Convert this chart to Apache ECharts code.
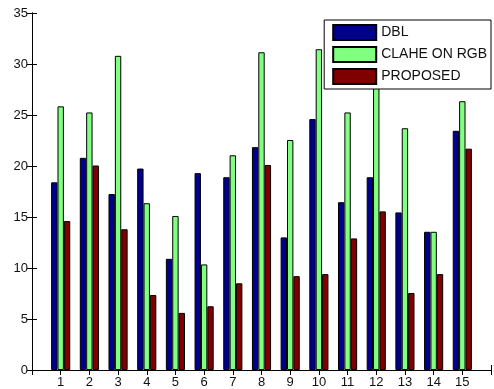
<!DOCTYPE html>
<html>
<head>
<meta charset="utf-8">
<script src="https://cdn.jsdelivr.net/npm/echarts@6/dist/echarts.min.js"></script>
<style>
html,body{margin:0;padding:0;background:#fff;}
#chart{width:494px;height:389px;}
</style>
</head>
<body>
<div id="chart"></div>
<script>
const categories = [1, 2, 3, 4, 5, 6, 7, 8, 9, 10, 11, 12, 13, 14, 15];
const seriesNames = ['DBL', 'CLAHE ON RGB', 'PROPOSED'];
const dbl = [18.4, 20.8, 17.25, 19.75, 10.9, 19.3, 18.9, 21.85, 13.0, 24.6, 16.45, 18.9, 15.45, 13.55, 23.45];
const clahe = [25.85, 25.25, 30.8, 16.35, 15.1, 10.35, 21.05, 31.15, 22.55, 31.45, 25.25, 29.8, 23.7, 13.55, 26.35];
const proposed = [14.6, 20.05, 13.8, 7.35, 5.6, 6.25, 8.5, 20.1, 9.2, 9.4, 12.9, 15.55, 7.55, 9.4, 21.7];
const yTicks = [0, 5, 10, 15, 20, 25, 30, 35];
const xTickLabels = ['1','2','3','4','5','6','7','8','9','10','11','12','13','14','15'];

const colors = ['#00008f', '#80ff80', '#800000'];
const font = 'Liberation Sans, Arial, Helvetica, sans-serif';

function pairs(vals) { return categories.map((c, i) => [c, vals[i]]); }
const allData = [dbl, clahe, proposed];

const chart = echarts.init(document.getElementById('chart'), null, {renderer: 'canvas'});
const axisLine = {show: true, lineStyle: {color: '#000', width: 1}};
const tickIn = {show: true, inside: true, length: 5, lineStyle: {color: '#000', width: 1}};

chart.setOption({
  animation: false,
  backgroundColor: '#fff',
  grid: {left: 32, right: -2, top: 13, bottom: 19, containLabel: false},
  legend: {
    data: seriesNames,
    orient: 'vertical',
    right: 3,
    top: 20,
    itemWidth: 43,
    itemHeight: 15,
    itemGap: 5,
    padding: [4, 4, 4, 8],
    backgroundColor: '#fff',
    borderColor: '#000',
    borderWidth: 1,
    icon: 'rect',
    textStyle: {fontFamily: font, fontSize: 14, color: '#111', lineHeight: 15},
    z: 10
  },
  xAxis: [
    {
      type: 'value', min: 0, max: 16, interval: 1, position: 'bottom',
      axisLine: axisLine, axisTick: tickIn, splitLine: {show: false},
      axisLabel: {
        margin: 6, fontFamily: font, fontSize: 13, color: '#111',
        formatter: v => (v >= 1 && v <= 15) ? xTickLabels[v - 1] : ''
      }
    },
    {
      type: 'value', min: 0, max: 16, interval: 1, position: 'top',
      axisLine: axisLine, axisTick: tickIn, splitLine: {show: false},
      axisLabel: {show: false}
    }
  ],
  yAxis: [
    {
      type: 'value', min: yTicks[0], max: yTicks[yTicks.length - 1], interval: 5, position: 'left',
      axisLine: axisLine, axisTick: tickIn, splitLine: {show: false},
      axisLabel: {margin: 4, fontFamily: font, fontSize: 13, color: '#111'}
    },
    {
      type: 'value', min: yTicks[0], max: yTicks[yTicks.length - 1], interval: 5, position: 'right',
      axisLine: axisLine, axisTick: tickIn, splitLine: {show: false},
      axisLabel: {show: false}
    }
  ],
  series: seriesNames.map((name, k) => ({
    name: name,
    type: 'bar',
    xAxisIndex: 0,
    yAxisIndex: 0,
    barGap: '0%',
    barCategoryGap: '33.3%',
    data: pairs(allData[k]),
    itemStyle: {color: colors[k], borderColor: '#000', borderWidth: 1},
    emphasis: {disabled: true}
  }))
});
</script>
</body>
</html>
